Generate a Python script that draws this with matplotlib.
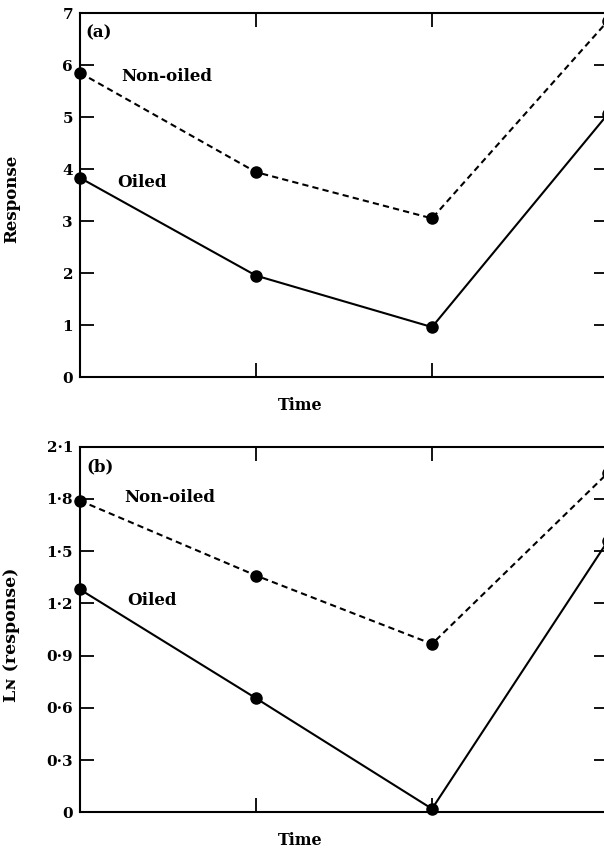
import matplotlib
matplotlib.use("Agg")
import matplotlib.pyplot as plt
from matplotlib.ticker import FuncFormatter

# Data
time_points = [0, 1, 2, 3]
resp_nonoiled = [5.85, 3.94, 3.05, 6.85]
resp_oiled = [3.83, 1.95, 0.96, 5.06]
ln_nonoiled = [1.79, 1.36, 0.967, 1.95]
ln_oiled = [1.28, 0.655, 0.02, 1.56]

top_yticks = [0, 1, 2, 3, 4, 5, 6, 7]
bot_yticks = [0, 0.3, 0.6, 0.9, 1.2, 1.5, 1.8, 2.1]

plt.rcParams['font.family'] = ['DejaVu Serif']
fig = plt.figure(figsize=(6.04, 8.49), dpi=100)

ax1 = fig.add_axes([80/604, (849-377)/849, 528/604, 364/849])
ax2 = fig.add_axes([80/604, (849-812.3)/849, 528/604, 365.6/849])

def style(ax, yticks, ymax, fmt):
    ax.set_xlim(0, 3)
    ax.set_ylim(0, ymax)
    ax.set_xticks([1, 2])
    ax.set_xticklabels([])
    ax.set_yticks(yticks)
    ax.yaxis.set_major_formatter(FuncFormatter(fmt))
    ax.tick_params(direction='in', length=10, width=1.3, top=True, right=True,
                   labelsize=11, pad=5)
    for lbl in ax.get_yticklabels():
        lbl.set_fontweight('bold')
    for s in ax.spines.values():
        s.set_linewidth(1.5)
    ax.set_xlabel('Time', fontsize=11.5, fontweight='bold')

def fmt_top(v, p):
    return f"{int(round(v))}"

def fmt_bot(v, p):
    if abs(v) < 1e-9:
        return "0"
    return f"{v:.1f}".replace('.', '\u00b7')

txt = dict(fontsize=12, fontweight='bold', va='center', ha='left')

# top panel
ax1.plot(time_points, resp_nonoiled, color='black', lw=1.5, ls=(0, (3, 2)),
         marker='o', ms=8, clip_on=False, zorder=3)
ax1.plot(time_points, resp_oiled, color='black', lw=1.5, ls='-',
         marker='o', ms=8, clip_on=False, zorder=3)
style(ax1, top_yticks, 7, fmt_top)
ax1.set_ylabel('Response', fontsize=12, fontweight='bold')
ax1.xaxis.set_label_coords(0.417, -0.055)
ax1.yaxis.set_label_coords(-0.113, 0.49)
ax1.text(0.01, 0.945, '(a)', transform=ax1.transAxes, **txt)
ax1.text(0.078, 0.825, 'Non-oiled', transform=ax1.transAxes, **txt)
ax1.text(0.07, 0.535, 'Oiled', transform=ax1.transAxes, **txt)

# bottom panel
ax2.plot(time_points, ln_nonoiled, color='black', lw=1.5, ls=(0, (3, 2)),
         marker='o', ms=8, clip_on=False, zorder=3)
ax2.plot(time_points, ln_oiled, color='black', lw=1.5, ls='-',
         marker='o', ms=8, clip_on=False, zorder=3)
style(ax2, bot_yticks, 2.1, fmt_bot)
ax2.set_ylabel('L\u0274 (response)', fontsize=12.5, fontweight='bold')
ax2.xaxis.set_label_coords(0.417, -0.055)
ax2.yaxis.set_label_coords(-0.113, 0.485)
ax2.text(0.012, 0.945, '(b)', transform=ax2.transAxes, **txt)
ax2.text(0.083, 0.86, 'Non-oiled', transform=ax2.transAxes, **txt)
ax2.text(0.089, 0.58, 'Oiled', transform=ax2.transAxes, **txt)

fig.savefig('out.png', dpi=100)
